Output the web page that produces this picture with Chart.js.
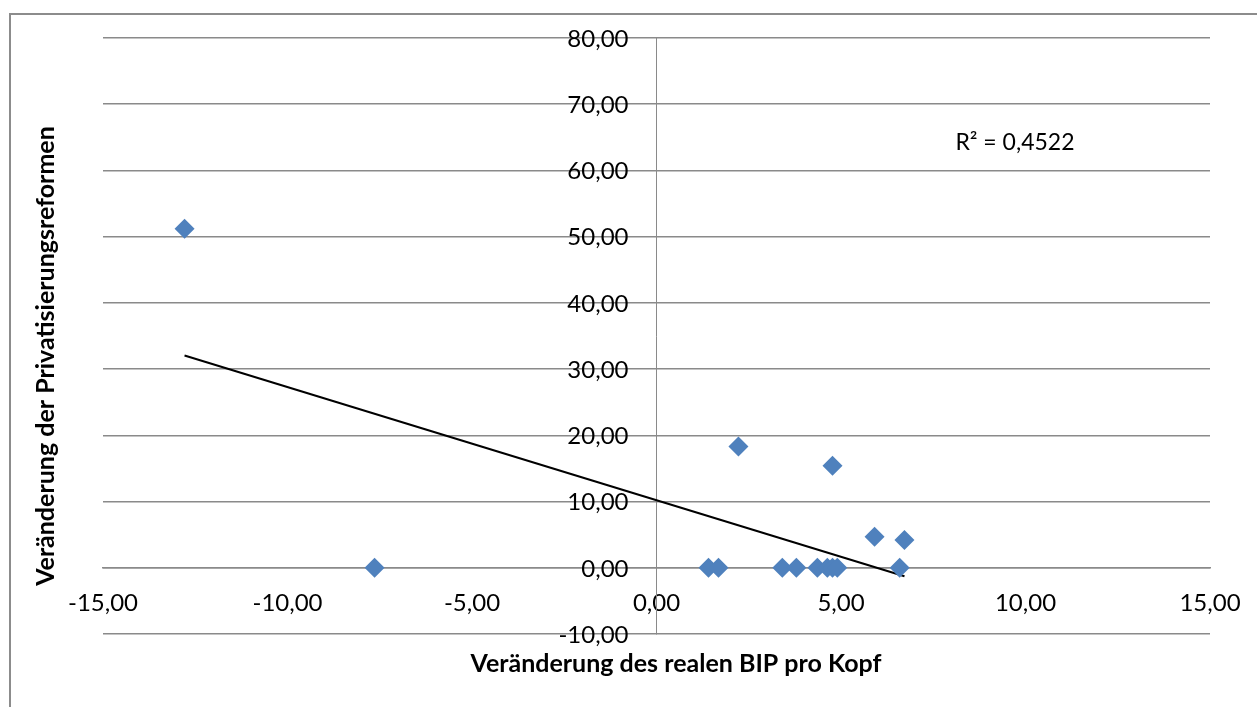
<!DOCTYPE html>
<html>
<head>
<meta charset="utf-8">
<script src="https://cdn.jsdelivr.net/npm/chart.js@4"></script>
<style>
  html, body { margin: 0; padding: 0; background: #fff; }
  canvas { display: block; }
</style>
</head>
<body>
<canvas id="chart" width="1257" height="707"></canvas>
<script>
// Veränderung des realen BIP pro Kopf (x) vs. Veränderung der Privatisierungsreformen (y)
const bipChange = [-12.79, -7.64, 1.41, 1.68, 3.41, 3.79, 4.36, 4.63, 4.77, 4.90, 2.22, 4.77, 5.91, 6.72, 6.59];
const privChange = [51.2, 0, 0, 0, 0, 0, 0, 0, 0, 0, 18.3, 15.4, 4.7, 4.2, 0];
const rSquaredText = "R² = 0,4522";
const rSquaredAt = [8.1, 64.2];
const xTitle = "Veränderung des realen BIP pro Kopf";
const yTitle = "Veränderung der Privatisierungsreformen";

const FONT = "Lato, 'Open Sans', sans-serif";
const GRID = "#8a8a8a";

const points = bipChange.map((x, i) => ({ x: x, y: privChange[i] }));

// linear trend line (least squares) from the points
const n = bipChange.length;
const mx = bipChange.reduce((a, b) => a + b, 0) / n;
const my = privChange.reduce((a, b) => a + b, 0) / n;
let sxy = 0, sxx = 0;
bipChange.forEach((x, i) => {
    sxy += (x - mx) * (privChange[i] - my);
    sxx += (x - mx) * (x - mx);
});
const slope = sxy / sxx;
const intercept = my - slope * mx;
const xMin = Math.min(...bipChange);
const xMax = Math.max(...bipChange);
const trend = [
    { x: xMin, y: intercept + slope * xMin },
    { x: xMax, y: intercept + slope * xMax }
];

const fmt = v => v.toFixed(2).replace(".", ",");

const extras = {
    id: "extras",
    afterDraw(chart) {
        const ctx = chart.ctx;
        const area = chart.chartArea;
        const xs = chart.scales.x;
        const ys = chart.scales.y;
        ctx.save();
        // outer frame
        ctx.strokeStyle = "#8c8c8c";
        ctx.lineWidth = 2;
        ctx.strokeRect(10, 14, 1400, 900);
        // y tick labels, left of the vertical axis
        ctx.fillStyle = "#000";
        ctx.font = "24px " + FONT;
        ctx.textAlign = "right";
        ctx.textBaseline = "middle";
        const axisX = xs.getPixelForValue(0);
        ys.ticks.forEach(t => {
            ctx.fillText(fmt(t.value), axisX - 28, ys.getPixelForValue(t.value) + 1);
        });
        // R² label
        ctx.font = "23px " + FONT;
        ctx.textAlign = "left";
        ctx.fillText(rSquaredText, xs.getPixelForValue(rSquaredAt[0]), ys.getPixelForValue(rSquaredAt[1]));
        // axis titles
        ctx.font = "bold 25px " + FONT;
        ctx.textAlign = "center";
        ctx.fillText(xTitle, 676, area.bottom + 30);
        ctx.translate(46, 356);
        ctx.rotate(-Math.PI / 2);
        ctx.fillText(yTitle, 0, 0);
        ctx.restore();
    }
};

new Chart(document.getElementById("chart"), {
    type: "scatter",
    data: {
        datasets: [
            {
                label: "Privatisierung",
                data: points,
                pointStyle: "rectRot",
                pointRadius: 10,
                pointHoverRadius: 10,
                backgroundColor: "#4f81bd",
                borderColor: "#4f81bd",
                borderWidth: 0
            },
            {
                label: "Trend",
                data: trend,
                showLine: true,
                pointRadius: 0,
                borderColor: "#000",
                borderWidth: 2
            }
        ]
    },
    options: {
        responsive: false,
        animation: false,
        layout: { padding: { left: 103, top: 38, right: 47, bottom: 73 } },
        plugins: {
            legend: { display: false },
            tooltip: { enabled: false }
        },
        scales: {
            x: {
                type: "linear",
                position: { y: 0 },
                min: -15,
                max: 15,
                grid: { display: false },
                border: { display: true, color: GRID, width: 1.5 },
                ticks: {
                    stepSize: 5,
                    padding: 13,
                    color: "#000",
                    font: { family: FONT, size: 24 },
                    callback: v => fmt(v)
                }
            },
            y: {
                type: "linear",
                position: { x: 0 },
                min: -10,
                max: 80,
                grid: { color: GRID, lineWidth: 1.5, drawTicks: false },
                border: { display: true, color: GRID, width: 1 },
                ticks: {
                    display: false,
                    stepSize: 10
                }
            }
        }
    },
    plugins: [extras]
});
</script>
</body>
</html>
